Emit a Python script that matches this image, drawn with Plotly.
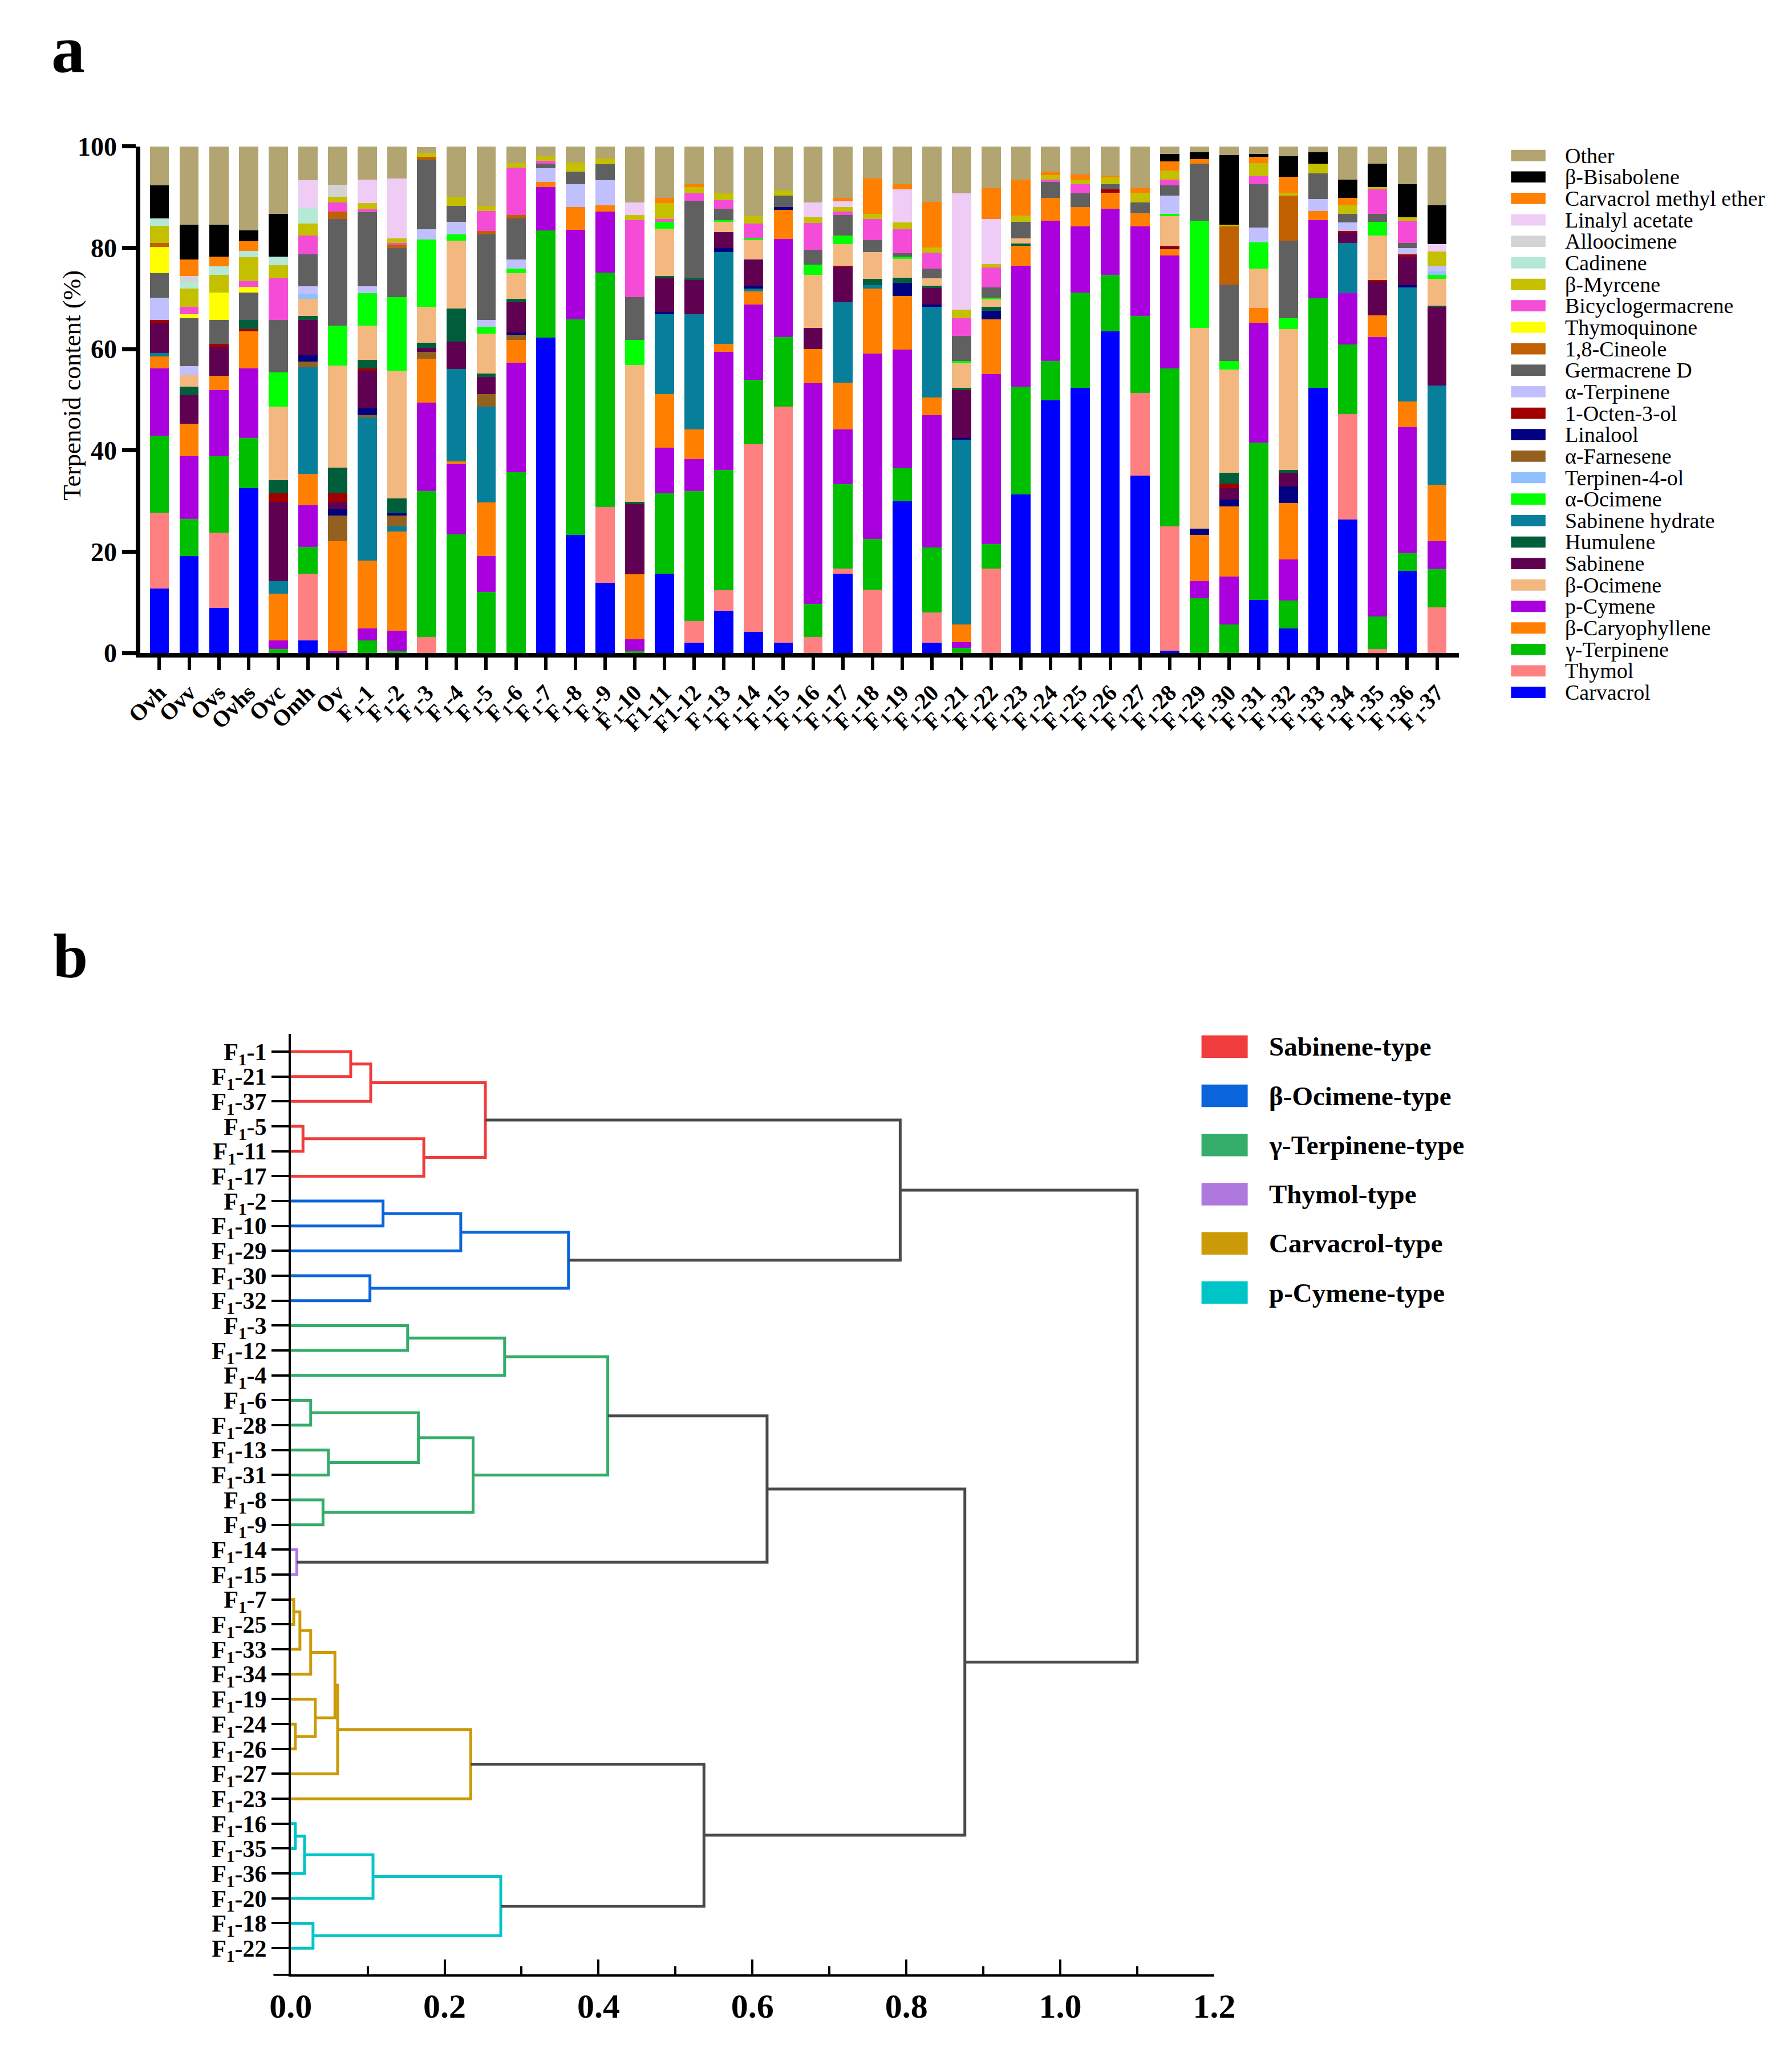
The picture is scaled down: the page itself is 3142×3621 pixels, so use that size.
import plotly.graph_objects as go

W, H = 3142, 3621
OFF = 8  # default page margin of the browser body
def fx(p): return (p - OFF) / W
def fy(p): return 1 - (p - OFF) / H

FONT = "Liberation Serif"

# ---------------- Panel a data ----------------
sample_labels = ["Ovh", "Ovv", "Ovs", "Ovhs", "Ovc", "Omh", "Ov",
    "F<sub>1</sub>-1", "F<sub>1</sub>-2", "F<sub>1</sub>-3", "F<sub>1</sub>-4", "F<sub>1</sub>-5",
    "F<sub>1</sub>-6", "F<sub>1</sub>-7", "F<sub>1</sub>-8", "F<sub>1</sub>-9", "F<sub>1</sub>-10",
    "F1-11", "F1-12", "F<sub>1</sub>-13", "F<sub>1</sub>-14", "F<sub>1</sub>-15",
    "F<sub>1</sub>-16", "F<sub>1</sub>-17", "F<sub>1</sub>-18", "F<sub>1</sub>-19", "F<sub>1</sub>-20",
    "F<sub>1</sub>-21", "F<sub>1</sub>-22", "F<sub>1</sub>-23", "F<sub>1</sub>-24", "F<sub>1</sub>-25",
    "F<sub>1</sub>-26", "F<sub>1</sub>-27", "F<sub>1</sub>-28", "F<sub>1</sub>-29", "F<sub>1</sub>-30",
    "F<sub>1</sub>-31", "F<sub>1</sub>-32", "F<sub>1</sub>-33", "F<sub>1</sub>-34", "F<sub>1</sub>-35",
    "F<sub>1</sub>-36", "F<sub>1</sub>-37"]

Carvacrol = [12.7, 19.2, 8.9, 32.5, 0, 2.5, 0,
    0, 0, 0, 0, 0, 0, 62.3, 23.3, 13.9, 0,
    15.7, 2.0, 8.3, 4.2, 2.0, 0, 15.7, 0, 30.0, 2.0,
    0, 0, 31.3, 49.9, 52.4, 63.5, 35.0, 0.5, 0, 0,
    10.5, 4.9, 52.4, 26.4, 0, 16.2, 0]
Thymol = [15.0, 0, 14.9, 0, 0, 13.2, 0,
    0, 0, 3.2, 0, 0, 0, 0, 0, 14.9, 0,
    0, 4.3, 4.1, 37.0, 46.7, 3.2, 1.0, 12.5, 0, 6.0,
    0, 16.7, 0, 0, 0, 0, 16.4, 24.5, 0, 0,
    0, 0, 0, 20.8, 0.8, 0, 9.0]
gamma_Terpinene = [15.2, 7.3, 15.0, 9.9, 0.8, 5.2, 0,
    2.5, 0.3, 28.8, 23.4, 12.1, 35.7, 21.1, 42.6, 46.3, 0.3,
    15.8, 25.7, 23.7, 12.7, 13.7, 6.5, 16.6, 10.0, 6.5, 12.8,
    1.0, 4.8, 21.3, 7.8, 18.8, 11.1, 15.2, 31.2, 10.8, 5.6,
    31.1, 5.5, 17.6, 13.7, 6.4, 3.5, 7.6]
p_Cymene = [13.3, 12.4, 13.1, 13.8, 1.7, 8.3, 0.5,
    2.4, 4.1, 17.4, 13.9, 7.1, 21.6, 8.6, 17.6, 12.1, 2.4,
    9.0, 6.3, 23.3, 14.9, 19.3, 43.6, 10.8, 36.6, 23.4, 26.2,
    1.2, 33.6, 23.9, 27.6, 13.0, 13.1, 17.6, 22.3, 3.4, 9.5,
    23.6, 8.1, 15.5, 10.1, 55.2, 24.9, 5.5]
beta_Caryophyllene = [2.4, 6.4, 2.8, 7.3, 9.2, 6.2, 21.6,
    13.4, 19.6, 8.7, 0.5, 10.5, 4.5, 1.0, 4.6, 1.2, 12.8,
    10.6, 5.8, 1.6, 2.6, 5.8, 6.7, 9.3, 12.8, 10.6, 3.4,
    3.4, 10.8, 3.9, 4.6, 3.9, 3.2, 2.6, 1.2, 9.1, 13.8,
    2.9, 11.1, 1.8, 0, 4.3, 5.1, 11.1]
Sabinene_hydrate = [0.6, 0, 0, 0, 2.5, 21.0, 0,
    28.2, 1.0, 0, 18.3, 19.0, 0, 0, 0, 0, 0,
    15.8, 22.8, 18.2, 0.5, 0, 0, 15.9, 0.7, 0, 18.0,
    36.5, 0, 0, 0, 0, 0, 0, 0, 0, 0,
    0, 0, 0, 9.9, 0, 22.5, 19.6]
alpha_Farnesene = [0, 0, 0, 0, 0, 1.1, 5.0,
    0.5, 2.1, 1.3, 0, 2.4, 1.0, 0, 0, 0, 0,
    0, 0, 0, 0, 0, 0, 0, 0, 0, 0,
    0, 0, 0, 0, 0, 0, 0, 0, 0, 0,
    0, 0, 0, 0, 0, 0, 0]
Linalool = [0, 0, 0, 0, 0, 1.3, 1.3,
    1.3, 0.5, 0, 0, 0, 0.5, 0, 0, 0, 0,
    0.4, 0, 0.7, 0.5, 0.6, 0, 0, 0, 2.6, 0.4,
    0.3, 1.7, 0, 0, 0, 0, 0, 0, 1.2, 1.4,
    0, 3.3, 0, 0, 0, 0.4, 0]
Sabinene = [6.0, 5.6, 5.6, 0, 15.6, 7.0, 1.4,
    7.4, 0, 0.8, 5.4, 3.4, 5.9, 0, 0, 0, 13.9,
    6.8, 6.7, 3.2, 5.3, 0, 4.2, 7.0, 0, 0, 3.3,
    9.5, 0, 0, 0, 0, 0, 0, 0.4, 0, 2.2,
    0, 2.7, 0, 2.1, 6.6, 5.7, 15.5]
Octen_3_ol = [0.5, 0, 0.7, 0.5, 1.7, 0, 1.7,
    0.5, 0, 0, 0, 0, 0, 0, 0, 0, 0,
    0, 0, 0, 0, 0, 0, 0.2, 0, 0, 0,
    0, 0, 0, 0, 0, 0.6, 0, 0.3, 0, 1.0,
    0, 0, 0, 0.3, 0.3, 0.4, 0]
Humulene = [0, 1.7, 0, 1.7, 2.6, 0.8, 5.1,
    1.7, 2.9, 1.0, 6.5, 0.7, 0.7, 0, 0, 0, 0.4,
    0.3, 0.4, 0, 0, 0, 0, 0, 1.3, 1.0, 0.4,
    0.5, 0.7, 0.4, 0, 0, 0, 0, 0, 0, 2.1,
    0, 0.5, 0, 0, 0, 0, 0.3]
beta_Ocimene = [0, 2.4, 0, 0, 14.6, 3.3, 20.1,
    6.7, 25.2, 7.1, 13.4, 7.9, 5.1, 0, 0, 0, 27.1,
    9.4, 0, 2.0, 3.8, 0, 10.4, 4.2, 5.2, 3.7, 1.5,
    4.8, 1.6, 1.0, 0, 0, 0, 0, 5.8, 39.7, 20.4,
    7.8, 27.8, 0, 0, 8.8, 0, 5.3]
alpha_Ocimene = [0, 0, 0, 0, 6.7, 0, 7.9,
    6.4, 14.6, 13.3, 1.2, 1.3, 0.9, 0, 0, 0, 4.9,
    1.3, 0, 0.4, 0.3, 0, 2.1, 1.7, 0, 0.4, 0,
    0.5, 0.2, 0, 0, 0, 0, 0, 0.5, 21.1, 1.7,
    5.2, 2.2, 0, 0, 2.7, 0, 0.7]
Terpinen_4_ol = [0, 0, 0, 0, 0, 0.9, 0,
    0, 0, 0, 0, 0, 0, 0, 0, 0, 0,
    0, 0, 0, 0, 0, 0, 0, 0, 0, 0,
    0, 0, 0, 0, 0, 0, 0, 0, 0, 0,
    0, 0, 0, 0, 0, 0, 0.7]
alpha_Terpinene = [4.5, 1.6, 0, 0, 0, 1.6, 0,
    1.4, 0, 2.1, 2.5, 1.4, 1.8, 2.7, 4.4, 4.9, 0,
    0, 0, 0, 0, 0, 0, 0, 0, 0, 0,
    0, 0, 0, 0, 0, 0, 0, 3.6, 0, 0,
    2.9, 0, 2.3, 1.7, 0, 1.2, 1.2]
Germacrene_D = [4.8, 9.5, 4.8, 5.5, 10.3, 6.3, 21.1,
    14.6, 9.6, 13.7, 3.2, 16.8, 8.1, 0.9, 2.5, 3.2, 8.5,
    0, 15.3, 2.2, 0, 2.2, 2.9, 4.1, 2.4, 0.7, 1.9,
    4.9, 2.1, 3.3, 3.1, 2.7, 1.0, 2.2, 2.0, 11.3, 15.0,
    8.5, 15.3, 5.1, 1.7, 1.6, 1.0, 0]
Thymoquinone = [5.2, 0.8, 5.4, 1.1, 0, 0, 0,
    0, 0, 0, 0, 0, 0, 0, 0, 0, 0,
    0, 0, 0, 0, 0, 0, 0, 0, 0, 0,
    0, 0, 0, 0, 0, 0, 0, 0, 0, 0,
    0, 0, 0, 0, 0, 0, 0]
Cineole = [0.7, 0, 0, 0, 0, 0, 1.5,
    0, 0.7, 0.5, 0, 0.7, 0.7, 0, 0, 0, 0,
    0, 0, 0, 0, 0, 0, 0, 0, 0, 0,
    0, 0, 0, 0, 0, 0, 0, 0, 0, 11.5,
    0, 8.9, 0, 0, 0, 0, 0]
Bicyclogermacrene = [0, 1.5, 0, 1.1, 8.3, 3.7, 1.8,
    0.6, 0.3, 0, 0, 4.0, 9.3, 0.6, 0, 0, 15.2,
    0.6, 1.5, 1.7, 3.0, 0, 5.3, 0.7, 4.2, 4.7, 3.1,
    3.5, 3.9, 0, 0.4, 1.7, 0, 0, 1.1, 0, 0,
    1.6, 0, 0, 0, 4.8, 4.4, 0]
beta_Myrcene = [3.4, 3.5, 3.4, 4.7, 2.6, 2.4, 1.1,
    1.2, 1.0, 0.8, 1.8, 1.0, 0.9, 0.9, 1.8, 1.1, 1.0,
    3.1, 1.2, 1.4, 1.4, 1.0, 1.1, 0.9, 1.0, 1.4, 1.1,
    1.7, 0.7, 1.3, 0.9, 0.9, 1.4, 1.9, 1.8, 0, 0.3,
    2.6, 0.5, 1.9, 1.7, 0.5, 0.7, 2.8]
Cadinene = [1.5, 1.3, 1.7, 1.3, 1.7, 3.1, 0,
    0, 0, 0, 0, 0, 0, 0, 0, 0, 0,
    0, 0, 0, 0, 0, 0, 0, 0, 0, 0,
    0, 0, 0, 0, 0, 0, 0, 0, 0, 0,
    0, 0, 0, 0, 0, 0, 0]
Alloocimene = [0, 1.2, 0, 0, 0, 0, 2.3,
    0, 0, 0, 0, 0, 0, 0, 0, 0, 0,
    0, 0, 0, 0, 0, 0, 0, 0, 0, 0,
    0, 0, 0, 0, 0, 0, 0, 0, 0, 0,
    0, 0, 0, 0, 0, 0, 0]
Linalyl_acetate = [0, 0, 0, 0, 0, 5.4, 0,
    4.6, 11.8, 0, 0, 0, 0, 0, 0, 0, 2.5,
    0, 0, 0, 0, 0, 3.0, 1.1, 0, 6.5, 0,
    23.0, 8.9, 0, 0, 0, 0, 0, 0, 0, 0,
    0, 0, 0, 0, 0, 0, 1.4]
Carvacrol_methyl_ether = [0, 3.3, 1.9, 1.9, 0, 0, 0,
    0, 0, 0, 0, 0, 0, 0, 0, 0, 0,
    1.1, 0.5, 0, 0, 0, 0, 0.6, 7.0, 1.1, 9.0,
    0, 6.1, 7.0, 0.7, 1.1, 0.3, 0.9, 1.9, 0.9, 0,
    1.3, 3.2, 0, 1.5, 0, 0, 0]
beta_Bisabolene = [6.5, 6.8, 6.3, 2.1, 8.4, 0, 0,
    0, 0, 0, 0, 0, 0, 0, 0, 0, 0,
    0, 0, 0, 0, 0, 0, 0, 0, 0, 0,
    0, 0, 0, 0, 0, 0, 0, 1.4, 1.3, 13.8,
    0.5, 4.1, 2.2, 3.5, 4.6, 6.6, 7.7]
Other = [7.7, 15.5, 15.5, 16.6, 13.3, 6.7, 7.6,
    6.6, 6.3, 1.2, 9.9, 11.7, 3.3, 1.9, 3.2, 2.4, 11.0,
    10.1, 7.5, 9.2, 13.8, 8.7, 11.0, 10.2, 6.3, 7.4, 10.9,
    9.2, 8.2, 6.6, 5.0, 5.5, 5.8, 8.2, 1.5, 1.2, 1.7,
    1.5, 1.9, 1.2, 6.6, 3.4, 7.4, 11.6]

# stacking order (bottom -> top)
stack = [("Carvacrol", Carvacrol), ("Thymol", Thymol), ("γ-Terpinene", gamma_Terpinene),
    ("p-Cymene", p_Cymene), ("β-Caryophyllene", beta_Caryophyllene),
    ("Sabinene hydrate", Sabinene_hydrate), ("α-Farnesene", alpha_Farnesene),
    ("Linalool", Linalool), ("Sabinene", Sabinene), ("1-Octen-3-ol", Octen_3_ol),
    ("Humulene", Humulene), ("β-Ocimene", beta_Ocimene), ("α-Ocimene", alpha_Ocimene),
    ("Terpinen-4-ol", Terpinen_4_ol), ("α-Terpinene", alpha_Terpinene),
    ("Germacrene D", Germacrene_D), ("Thymoquinone", Thymoquinone), ("1,8-Cineole", Cineole),
    ("Bicyclogermacrene", Bicyclogermacrene), ("β-Myrcene", beta_Myrcene),
    ("Cadinene", Cadinene), ("Alloocimene", Alloocimene), ("Linalyl acetate", Linalyl_acetate),
    ("Carvacrol methyl ether", Carvacrol_methyl_ether), ("β-Bisabolene", beta_Bisabolene),
    ("Other", Other)]

legend_order = ["Other", "β-Bisabolene", "Carvacrol methyl ether", "Linalyl acetate",
    "Alloocimene", "Cadinene", "β-Myrcene", "Bicyclogermacrene", "Thymoquinone",
    "1,8-Cineole", "Germacrene D", "α-Terpinene", "1-Octen-3-ol", "Linalool",
    "α-Farnesene", "Terpinen-4-ol", "α-Ocimene", "Sabinene hydrate", "Humulene",
    "Sabinene", "β-Ocimene", "p-Cymene", "β-Caryophyllene", "γ-Terpinene", "Thymol",
    "Carvacrol"]

colors = {
    "Carvacrol": "#0000FF", "Thymol": "#FF8080", "γ-Terpinene": "#00BF00",
    "p-Cymene": "#AA00DD", "β-Caryophyllene": "#FF8000", "Sabinene hydrate": "#077E9A",
    "α-Farnesene": "#946020", "Linalool": "#000080", "Sabinene": "#600050",
    "1-Octen-3-ol": "#A00000", "Humulene": "#005F3A", "β-Ocimene": "#F2B880",
    "α-Ocimene": "#00FF00", "Terpinen-4-ol": "#90C0FF", "α-Terpinene": "#C0C0FF",
    "Germacrene D": "#606060", "Thymoquinone": "#FFFF00", "1,8-Cineole": "#C06000",
    "Bicyclogermacrene": "#F54CD8", "β-Myrcene": "#C4C000", "Cadinene": "#B5E8D5",
    "Alloocimene": "#D3D3D3", "Linalyl acetate": "#EECCF5",
    "Carvacrol methyl ether": "#FF7F00", "β-Bisabolene": "#000000", "Other": "#B2A572"}

# ---------------- Panel b data ----------------
leaf_order = ["F1-1", "F1-21", "F1-37", "F1-5", "F1-11", "F1-17", "F1-2", "F1-10", "F1-29",
    "F1-30", "F1-32", "F1-3", "F1-12", "F1-4", "F1-6", "F1-28", "F1-13", "F1-31", "F1-8",
    "F1-9", "F1-14", "F1-15", "F1-7", "F1-25", "F1-33", "F1-34", "F1-19", "F1-24", "F1-26",
    "F1-27", "F1-23", "F1-16", "F1-35", "F1-36", "F1-20", "F1-18", "F1-22"]
leaf_labels = ["F<sub>1</sub>-" + n.split("-")[1] for n in leaf_order]

# (node, left, right, height, group)
merges = [
    ("r1", "F1-1", "F1-21", 0.078, "Sabinene-type"),
    ("r2", "r1", "F1-37", 0.104, "Sabinene-type"),
    ("r3", "F1-5", "F1-11", 0.016, "Sabinene-type"),
    ("r4", "r3", "F1-17", 0.173, "Sabinene-type"),
    ("r5", "r2", "r4", 0.253, "Sabinene-type"),
    ("b1", "F1-2", "F1-10", 0.120, "β-Ocimene-type"),
    ("b2", "b1", "F1-29", 0.221, "β-Ocimene-type"),
    ("b3", "F1-30", "F1-32", 0.103, "β-Ocimene-type"),
    ("b4", "b2", "b3", 0.361, "β-Ocimene-type"),
    ("g1", "F1-3", "F1-12", 0.152, "γ-Terpinene-type"),
    ("g2", "g1", "F1-4", 0.278, "γ-Terpinene-type"),
    ("g3", "F1-6", "F1-28", 0.026, "γ-Terpinene-type"),
    ("g4", "F1-13", "F1-31", 0.049, "γ-Terpinene-type"),
    ("g5", "g3", "g4", 0.166, "γ-Terpinene-type"),
    ("g6", "F1-8", "F1-9", 0.042, "γ-Terpinene-type"),
    ("g7", "g5", "g6", 0.237, "γ-Terpinene-type"),
    ("g8", "g2", "g7", 0.412, "γ-Terpinene-type"),
    ("t1", "F1-14", "F1-15", 0.008, "Thymol-type"),
    ("c1", "F1-7", "F1-25", 0.004, "Carvacrol-type"),
    ("c2", "c1", "F1-33", 0.012, "Carvacrol-type"),
    ("c3", "c2", "F1-34", 0.026, "Carvacrol-type"),
    ("c4", "F1-24", "F1-26", 0.006, "Carvacrol-type"),
    ("c5", "F1-19", "c4", 0.032, "Carvacrol-type"),
    ("c6", "c3", "c5", 0.0575, "Carvacrol-type"),
    ("c7", "c6", "F1-27", 0.061, "Carvacrol-type"),
    ("c8", "c7", "F1-23", 0.234, "Carvacrol-type"),
    ("p1", "F1-16", "F1-35", 0.006, "p-Cymene-type"),
    ("p2", "p1", "F1-36", 0.018, "p-Cymene-type"),
    ("p3", "p2", "F1-20", 0.107, "p-Cymene-type"),
    ("p4", "F1-18", "F1-22", 0.029, "p-Cymene-type"),
    ("p5", "p3", "p4", 0.273, "p-Cymene-type"),
    ("x1", "r5", "b4", 0.792, "link"),
    ("x2", "g8", "t1", 0.619, "link"),
    ("x3", "c8", "p5", 0.537, "link"),
    ("x4", "x2", "x3", 0.876, "link"),
    ("x5", "x1", "x4", 1.100, "link"),
]
groups = ["Sabinene-type", "β-Ocimene-type", "γ-Terpinene-type", "Thymol-type",
          "Carvacrol-type", "p-Cymene-type"]
group_colors = {"Sabinene-type": "#F03C3C", "β-Ocimene-type": "#0A64DC",
    "γ-Terpinene-type": "#34AD6A", "Thymol-type": "#AE78DE",
    "Carvacrol-type": "#CC9A06", "p-Cymene-type": "#00C5C8", "link": "#4A4A4A"}

# ---------------- Figure ----------------
fig = go.Figure()
for name, vals in stack:
    fig.add_trace(go.Bar(x=sample_labels, y=vals, name=name, width=0.65,
        marker=dict(color=colors[name], line=dict(width=0)),
        xaxis="x", yaxis="y", showlegend=False))

ypos = {n: i for i, n in enumerate(leaf_order)}
hgt = {n: 0.0 for n in leaf_order}
segs = {}
for node, a, b, h, grp in merges:
    ya, yb = ypos[a], ypos[b]
    sx, sy = segs.setdefault(grp, ([], []))
    sx.extend([hgt[a], h, h, hgt[b], None])
    sy.extend([ya, ya, yb, yb, None])
    ypos[node] = (ya + yb) / 2
    hgt[node] = h
for grp, (sx, sy) in segs.items():
    fig.add_trace(go.Scatter(x=sx, y=sy, mode="lines", xaxis="x2", yaxis="y2",
        line=dict(color=group_colors[grp], width=5), showlegend=False,
        cliponaxis=False, hoverinfo="skip"))

shapes = []
annotations = []

# legend panel a
for i, name in enumerate(legend_order):
    yc = 251 + i * 38.2
    shapes.append(dict(type="rect", xref="paper", yref="paper",
        x0=fx(2675), x1=fx(2737), y0=fy(yc + 10), y1=fy(yc - 10),
        fillcolor=colors[name], line=dict(width=0)))
    annotations.append(dict(text=name, xref="paper", yref="paper", x=fx(2770), y=fy(yc),
        xanchor="left", yanchor="middle", showarrow=False,
        font=dict(family=FONT, size=38, color="black")))

# legend panel b
for i, g in enumerate(groups):
    yc = 1836 + i * 87.5
    shapes.append(dict(type="rect", xref="paper", yref="paper",
        x0=fx(2119), x1=fx(2202), y0=fy(yc + 20), y1=fy(yc - 20),
        fillcolor=group_colors[g], line=dict(width=0)))
    annotations.append(dict(text=g, xref="paper", yref="paper", x=fx(2238), y=fy(yc),
        xanchor="left", yanchor="middle", showarrow=False,
        font=dict(family=FONT, size=47, color="black", weight="bold")))

# small extension of dendrogram x-axis line to the left
shapes.append(dict(type="line", xref="paper", yref="paper", x0=fx(452), x1=fx(485),
    y0=fy(3487), y1=fy(3487), line=dict(color="black", width=3.5)))

annotations += [
    dict(text="a", xref="paper", yref="paper", x=fx(83), y=fy(62), xanchor="center",
         yanchor="middle", showarrow=False,
         font=dict(family=FONT, size=118, color="black", weight="bold")),
    dict(text="b", xref="paper", yref="paper", x=fx(87), y=fy(1675), xanchor="center",
         yanchor="middle", showarrow=False,
         font=dict(family=FONT, size=110, color="black", weight="bold")),
    dict(text="Terpenoid content (%)", xref="paper", yref="paper", x=fx(90), y=fy(660),
         xanchor="center", yanchor="middle", textangle=-90, showarrow=False,
         font=dict(family=FONT, size=45, color="black")),
]

fig.update_layout(
    width=W, height=H, margin=dict(l=0, r=0, t=0, b=0),
    paper_bgcolor="white", plot_bgcolor="white", showlegend=False,
    barmode="stack", bargap=0.35,
    font=dict(family=FONT, color="black"),
    xaxis=dict(domain=[fx(213), fx(2581)], anchor="y", type="category",
        range=[-0.64, 43.73], showline=True, linewidth=8, linecolor="black",
        ticks="outside", ticklen=22, tickwidth=6, tickcolor="black", tickangle=-45,
        tickfont=dict(family=FONT, size=40, color="black", weight="bold"),
        showgrid=False, zeroline=False),
    yaxis=dict(domain=[fy(1136), fy(235)], anchor="x", range=[0, 100],
        tickvals=[0, 20, 40, 60, 80, 100], showline=True, linewidth=8, linecolor="black",
        ticks="outside", ticklen=24, tickwidth=7, tickcolor="black",
        tickfont=dict(family=FONT, size=46, color="black", weight="bold"),
        showgrid=False, zeroline=False),
    xaxis2=dict(domain=[fx(483), fx(2142)], anchor="y2", range=[0, 1.2001],
        tick0=0, dtick=0.2, tickformat=".1f", showline=True, linewidth=3.5,
        linecolor="black", ticks="inside", ticklen=26, tickwidth=3.5, tickcolor="black",
        minor=dict(dtick=0.1, tick0=0, ticks="inside", ticklen=14, tickwidth=3.5,
                   tickcolor="black"),
        tickfont=dict(family=FONT, size=60, color="black", weight="bold"),
        showgrid=False, zeroline=False),
    yaxis2=dict(domain=[fy(3486), fy(1813)], anchor="x2", range=[37.05, -0.72],
        tickmode="array", tickvals=list(range(len(leaf_order))), ticktext=leaf_labels,
        showline=True, linewidth=3.5, linecolor="black", ticks="outside", ticklen=30,
        tickwidth=3.5, tickcolor="black",
        tickfont=dict(family=FONT, size=42, color="black", weight="bold"),
        showgrid=False, zeroline=False),
    shapes=shapes, annotations=annotations,
)

fig.write_html("out.html")
